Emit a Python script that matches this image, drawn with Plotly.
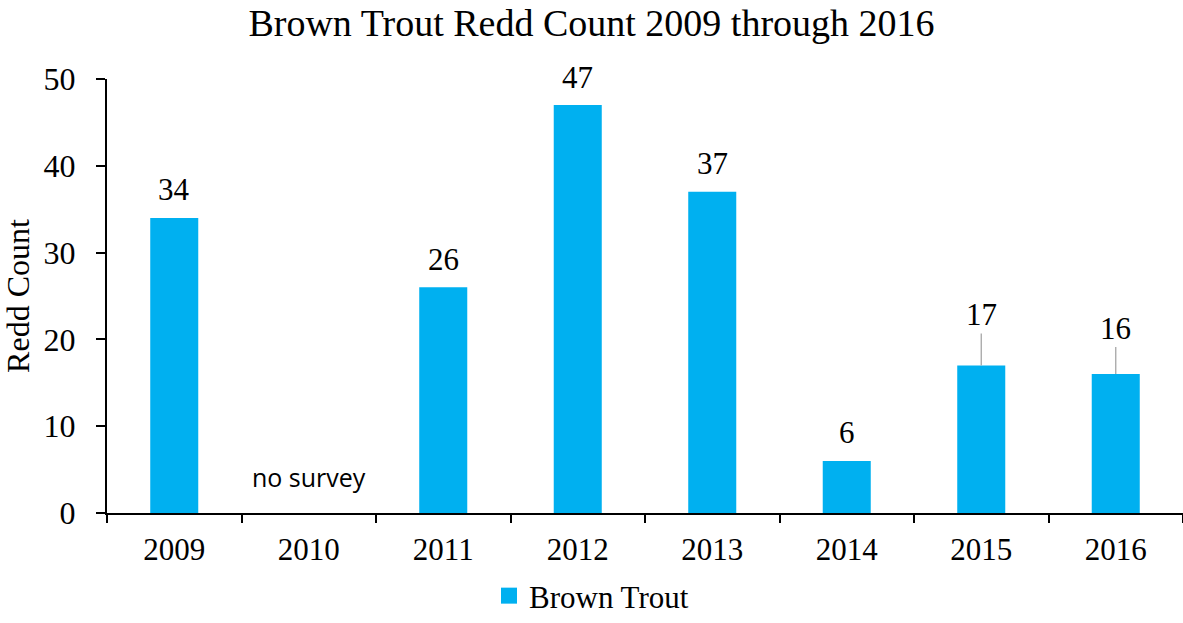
import plotly.graph_objects as go

years = ["2009", "2010", "2011", "2012", "2013", "2014", "2015", "2016"]
redds = [34, None, 26, 47, 37, 6, 17, 16]
# years whose value labels sit higher, joined to the bar by a leader line
leader_offsets = {"2015": -51, "2016": -46}
no_survey_year = "2010"

BAR_COLOR = "#00B0F0"
SERIF = "Liberation Serif, Times New Roman, serif"
LABEL_SIZE = 31

fig = go.Figure()
fig.add_trace(go.Bar(
    x=years, y=redds, name="Brown Trout",
    marker=dict(color=BAR_COLOR, line=dict(width=0)),
    width=0.357, showlegend=False,
))
# legend entry with a larger square swatch
fig.add_trace(go.Scatter(
    x=[None], y=[None], mode="markers", name="Brown Trout",
    marker=dict(symbol="square", size=20, color=BAR_COLOR),
    showlegend=True,
))

annotations = []
for i, (yr, v) in enumerate(zip(years, redds)):
    if v is None:
        continue
    if yr in leader_offsets:
        annotations.append(dict(
            x=i, y=v, xref="x", yref="y", text=str(v),
            showarrow=True, arrowhead=0, arrowwidth=1.3, arrowcolor="#a6a6a6",
            ax=0, ay=leader_offsets[yr], standoff=0,
            font=dict(family=SERIF, size=LABEL_SIZE, color="black"),
        ))
    else:
        annotations.append(dict(
            x=i, y=v, xref="x", yref="y", text=str(v),
            showarrow=False, yanchor="middle", yshift=28,
            font=dict(family=SERIF, size=LABEL_SIZE, color="black"),
        ))

annotations.append(dict(
    x=years.index(no_survey_year), y=4.2, xref="x", yref="y", text="no survey",
    showarrow=False, yanchor="middle",
    font=dict(family="Open Sans, Liberation Sans, sans-serif", size=25, color="black"),
))

fig.update_layout(
    width=1183, height=623,
    paper_bgcolor="white", plot_bgcolor="white",
    margin=dict(l=107, r=0, t=79, b=110),
    title=dict(text="Brown Trout Redd Count 2009 through 2016",
               x=0.5, xref="container", xanchor="center",
               y=1 - 23 / 623, yref="container", yanchor="middle",
               font=dict(family=SERIF, size=38, color="black")),
    font=dict(family=SERIF, color="black"),
    showlegend=True,
    legend=dict(orientation="h", x=0.5, xref="container", xanchor="center",
                y=-7 / 623, yref="container", yanchor="bottom",
                font=dict(family=SERIF, size=31, color="black")),
    annotations=annotations,
)

fig.update_xaxes(
    type="category", categoryorder="array", categoryarray=years,
    range=[-0.5, len(years) - 0.5],
    showline=True, linecolor="black", linewidth=2,
    ticks="outside", tickson="boundaries", ticklen=8, tickwidth=2, tickcolor="black",
    tickfont=dict(family=SERIF, size=31, color="black"),
    tickangle=0, ticklabelstandoff=8,
    showgrid=False, zeroline=False,
)
fig.update_yaxes(
    range=[0, 50], dtick=10,
    showline=True, linecolor="black", linewidth=2,
    ticks="outside", ticklen=9, tickwidth=2, tickcolor="black",
    tickfont=dict(family=SERIF, size=32, color="black"),
    ticklabelstandoff=14,
    showgrid=False, zeroline=False,
    title=dict(text="Redd Count", font=dict(family=SERIF, size=32, color="black"), standoff=8),
)

fig.write_html("out.html")
